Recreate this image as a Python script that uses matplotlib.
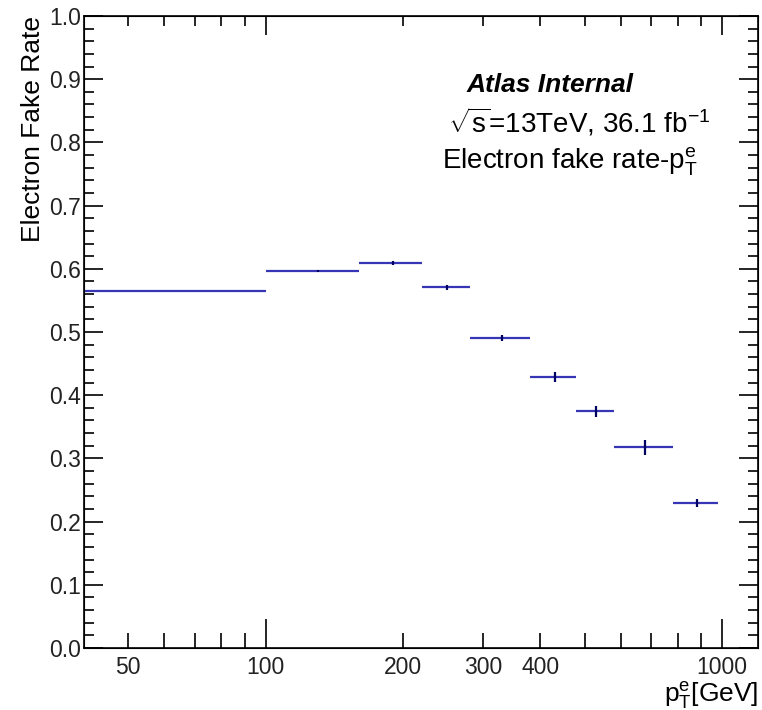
import matplotlib
matplotlib.use("Agg")
import matplotlib.pyplot as plt
import numpy as np
from matplotlib.ticker import FixedLocator, FuncFormatter, NullFormatter

plt.rcParams['font.family'] = ['Liberation Sans', 'DejaVu Sans']
plt.rcParams['mathtext.fontset'] = 'custom'
plt.rcParams['mathtext.rm'] = 'Liberation Sans'
plt.rcParams['mathtext.it'] = 'Liberation Sans'

bin_edges = [40, 100, 160, 220, 280, 380, 480, 580, 780, 980]
fake_rate = [0.565, 0.5965, 0.609, 0.571, 0.4905, 0.4288, 0.3745, 0.3175, 0.230]
fake_err = [0.0005, 0.001, 0.003, 0.004, 0.0055, 0.0074, 0.009, 0.0116, 0.0063]

fig = plt.figure(figsize=(7.62, 7.10), dpi=100)
ax = fig.add_axes([84/762, (710-648)/710, (758-84)/762, (648-16)/710])

edges = np.array(bin_edges, dtype=float)
lo = edges[:-1]
hi = edges[1:]
centers = (lo + hi) / 2
vals = np.array(fake_rate)
errs = np.array(fake_err)

ax.hlines(vals, lo, hi, color='#3535b5', lw=1.6, zorder=3)
ax.vlines(centers, vals - errs, vals + errs, color='#000060', lw=1.6, zorder=4)

xlim = (40, 1200)
major_x = [100, 1000]
minor_x = [50, 60, 70, 80, 90, 200, 300, 400, 500, 600, 700, 800, 900]

ax.set_xscale('log')
ax.set_xlim(*xlim)
ax.set_ylim(0, 1.0)

ax.xaxis.set_major_locator(FixedLocator(major_x))
ax.xaxis.set_minor_locator(FixedLocator(minor_x))
ax.xaxis.set_major_formatter(FuncFormatter(lambda v, p: f"{v:.0f}"))
lab_minor = {50: "50", 200: "200", 300: "300", 400: "400"}
ax.xaxis.set_minor_formatter(FuncFormatter(lambda v, p: lab_minor.get(int(round(v)), "")))

ax.yaxis.set_major_locator(FixedLocator(np.round(np.arange(0, 1.01, 0.1), 2)))
ax.yaxis.set_minor_locator(FixedLocator(np.round(np.arange(0, 1.001, 0.02), 2)))
ax.yaxis.set_major_formatter(FuncFormatter(lambda v, p: f"{v:.1f}"))

ax.tick_params(axis='x', which='major', direction='in', length=21, width=1.2,
               top=False, bottom=True, labelsize=16.5, pad=6)
ax.tick_params(axis='x', which='minor', direction='in', length=11, width=1.2,
               top=False, bottom=True, labelsize=16.5, pad=6)
ax.tick_params(axis='y', which='major', direction='in', length=14, width=1.2,
               left=True, right=True, labelsize=16.5, pad=2)
ax.tick_params(axis='y', which='minor', direction='in', length=7, width=1.2,
               left=True, right=True)
for lbl in ax.get_xticklabels(which='both') + ax.get_yticklabels():
    lbl.set_color('#222222')
for s in ax.spines.values():
    s.set_linewidth(1.2)

# top axis ticks (shorter, no labels)
axt = ax.twiny()
axt.set_xscale('log')
axt.set_xlim(*xlim)
axt.xaxis.set_major_locator(FixedLocator(major_x))
axt.xaxis.set_minor_locator(FixedLocator(minor_x))
axt.xaxis.set_major_formatter(NullFormatter())
axt.xaxis.set_minor_formatter(NullFormatter())
axt.tick_params(axis='x', which='major', direction='in', length=14, width=1.2)
axt.tick_params(axis='x', which='minor', direction='in', length=7, width=1.2)

ax.set_ylabel("Electron Fake Rate", fontsize=19, loc='top', labelpad=3)
ax.text(1.0, -0.05, r"p$_\mathregular{T}^\mathregular{e}$[GeV]", transform=ax.transAxes,
        ha='right', va='top', fontsize=19)

ax.text(0.567, 0.891, "Atlas Internal", transform=ax.transAxes, ha='left', va='center',
        fontsize=19, fontweight='bold', fontstyle='italic')
ax.text(0.540, 0.832, r"$\sqrt{\mathregular{s}}$=13TeV, 36.1 fb$^\mathregular{-1}$",
        transform=ax.transAxes, ha='left', va='center', fontsize=20)
ax.text(0.531, 0.769, r"Electron fake rate-p$_\mathregular{T}^\mathregular{e}$",
        transform=ax.transAxes, ha='left', va='center', fontsize=20)

fig.savefig("out.png", dpi=100)
